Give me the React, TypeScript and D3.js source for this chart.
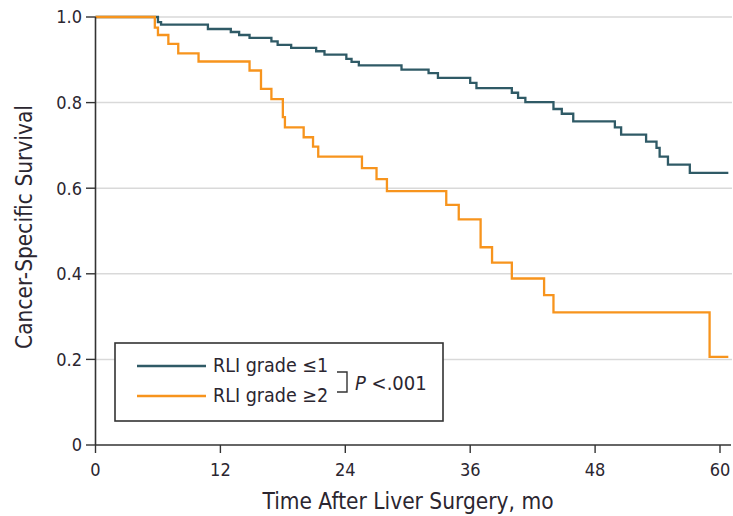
import React from "react";
import * as d3 from "d3";

const lowTimes = [0, 6.0, 6.3, 10.8, 13.0, 13.8, 14.8, 16.9, 17.5, 18.8, 21.2, 22.0, 24.1, 24.6, 25.3, 29.4, 32.0, 32.9, 36.0, 36.6, 40.0, 40.6, 41.3, 44.0, 44.8, 45.9, 49.9, 50.5, 52.9, 53.9, 54.2, 55.0, 57.1, 60.8];
const lowSurv = [1.0, 0.988, 0.982, 0.972, 0.965, 0.958, 0.951, 0.943, 0.935, 0.928, 0.92, 0.912, 0.902, 0.895, 0.887, 0.877, 0.869, 0.858, 0.846, 0.834, 0.823, 0.811, 0.801, 0.785, 0.774, 0.756, 0.742, 0.725, 0.709, 0.694, 0.674, 0.655, 0.636, 0.636];

const highTimes = [0, 5.7, 6.0, 7.0, 7.95, 9.9, 14.8, 15.9, 16.9, 18.0, 18.2, 20.0, 20.9, 21.4, 25.6, 27.0, 28.0, 33.7, 34.9, 37.0, 38.1, 40.0, 43.1, 44.0, 59.0, 60.8];
const highSurv = [1.0, 0.975, 0.958, 0.937, 0.915, 0.896, 0.875, 0.832, 0.808, 0.766, 0.742, 0.719, 0.697, 0.674, 0.647, 0.621, 0.593, 0.561, 0.527, 0.462, 0.426, 0.389, 0.35, 0.31, 0.206, 0.206];

const xTicks = [0, 12, 24, 36, 48, 60];
const yTicks = [0, 0.2, 0.4, 0.6, 0.8, 1.0];
const yTickLabels = ["0", "0.2", "0.4", "0.6", "0.8", "1.0"];
const seriesLabels = ["RLI grade \u22641", "RLI grade \u22652"];

const DARK = "#2f5a66";
const ORANGE = "#f7941d";
const TEXT = "#2b2630";
const FONT = "'Liberation Sans Narrow', 'DejaVu Sans Condensed', 'Liberation Sans', sans-serif";

export default function App() {
  const x = d3.scaleLinear().domain([0, 60]).range([95.5, 720]);
  const y = d3.scaleLinear().domain([0, 1]).range([445, 17]);
  const line = d3
    .line<[number, number]>()
    .x((d) => x(d[0]))
    .y((d) => y(d[1]))
    .curve(d3.curveStepAfter);
  const lowData = lowTimes.map((t, i) => [t, lowSurv[i]] as [number, number]);
  const highData = highTimes.map((t, i) => [t, highSurv[i]] as [number, number]);

  return (
    <div style={{ position: "absolute", left: 0, top: 0 }}>
      <svg width={733} height={516} style={{ display: "block", background: "#fff" }} fontFamily={FONT}>
        {yTicks.slice(1).map((v) => (
          <line key={"g" + v} x1={96} x2={732} y1={y(v)} y2={y(v)} stroke="#d9d9d9" strokeWidth={1.5} />
        ))}
        <path d={line(lowData) || ""} fill="none" stroke={DARK} strokeWidth={2.3} />
        <path d={line(highData) || ""} fill="none" stroke={ORANGE} strokeWidth={2.3} />
        {/* axes */}
        <line x1={x(0)} x2={x(0)} y1={y(1)} y2={y(0)} stroke="#333" strokeWidth={1.6} />
        <line x1={x(0)} x2={731} y1={y(0)} y2={y(0)} stroke="#333" strokeWidth={1.6} />
        {yTicks.map((v, i) => (
          <g key={"y" + v}>
            <line x1={86} x2={x(0)} y1={y(v)} y2={y(v)} stroke="#333" strokeWidth={1.4} />
            <text x={82} y={y(v)} dy="0.36em" textAnchor="end" fontSize={18} fill={TEXT}>
              {yTickLabels[i]}
            </text>
          </g>
        ))}
        {xTicks.map((v) => (
          <g key={"x" + v}>
            <line x1={x(v)} x2={x(v)} y1={y(0)} y2={y(0) + 8} stroke="#333" strokeWidth={1.4} />
            <text x={x(v)} y={476} textAnchor="middle" fontSize={18} fill={TEXT}>
              {v}
            </text>
          </g>
        ))}
        <text x={408} y={509} textAnchor="middle" fontSize={22.5} fill={TEXT}>
          Time After Liver Surgery, mo
        </text>
        <text transform="translate(32,227) rotate(-90)" textAnchor="middle" fontSize={22.5} fill={TEXT}>
          Cancer-Specific Survival
        </text>
        {/* legend */}
        <rect x={115} y={343} width={328} height={78} fill="#fff" stroke="#333" strokeWidth={1.6} />
        <line x1={137} x2={206} y1={366} y2={366} stroke={DARK} strokeWidth={2.6} />
        <line x1={137} x2={206} y1={396} y2={396} stroke={ORANGE} strokeWidth={2.6} />
        <text x={213} y={372} fontSize={19.5} fill={TEXT}>{seriesLabels[0]}</text>
        <text x={213} y={402} fontSize={19.5} fill={TEXT}>{seriesLabels[1]}</text>
        <path d="M337,372 H347 V392 H337" fill="none" stroke="#333" strokeWidth={1.4} />
        <text x={355} y={390} fontSize={20} fill={TEXT}>
          <tspan fontStyle="italic">P</tspan>
          <tspan> &lt;.001</tspan>
        </text>
      </svg>
    </div>
  );
}
